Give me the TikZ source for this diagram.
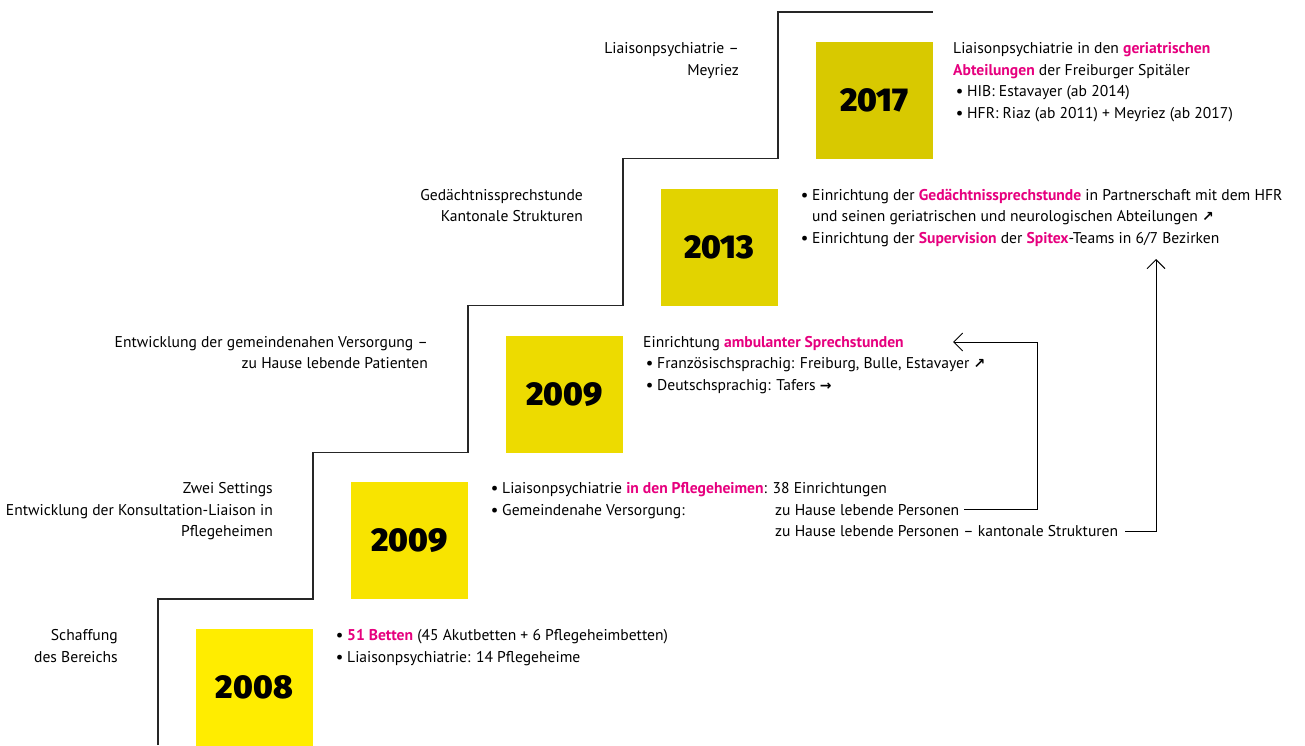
\documentclass[tikz,border=0pt]{standalone}
\usepackage{fontspec}
\setmainfont{PT Sans}
\newfontfamily\yearfont{Fira Sans Black}
\newfontfamily\arrowfont{DejaVu Sans}
\usetikzlibrary{arrows.meta}
\definecolor{hlpink}{HTML}{E6007E}
\definecolor{y08}{HTML}{FFED00}
\definecolor{y09a}{HTML}{F8E400}
\definecolor{y09b}{HTML}{EDDB00}
\definecolor{y13}{HTML}{E2D300}
\definecolor{y17}{HTML}{D8C900}
\newcommand{\hlt}[1]{\textcolor{hlpink}{\bfseries #1}}
\newcommand{\bul}{\makebox[14pt][l]{\hspace{3pt}\textbf{•}}}
\newcommand{\nea}{{\arrowfont\bfseries\fontsize{14}{14}\selectfont ↗}}
\newcommand{\eaa}{{\arrowfont\bfseries\fontsize{14}{14}\selectfont →}}
\begin{document}
\begin{tikzpicture}[x=1pt,y=1pt,
  yearbox/.style={minimum width=117pt, minimum height=117pt, inner sep=0pt, anchor=north east,
    font=\yearfont\fontsize{33}{33}\selectfont},
  txt/.style={inner sep=0pt, align=left, anchor=north west, font=\fontsize{15.6}{21.5}\selectfont},
  lbl/.style={inner sep=0pt, align=right, anchor=north east, font=\fontsize{15.6}{21.5}\selectfont},
  sidetxt/.style={inner sep=0pt, anchor=base west, font=\fontsize{15.6}{21.5}\selectfont},
  stair/.style={line width=1.2pt, black!85},
  conn/.style={line width=0.9pt, -{Straight Barb[length=9pt,width=18pt]}}]
\useasboundingbox (0,0) rectangle (1305,-745);

% year boxes, one per step
\foreach \k/\yr/\col/\nm in {0/2008/y08/b2008, 1/2009/y09a/b2009a, 2/2009/y09b/b2009b,
    3/2013/y13/b2013, 4/2017/y17/b2017}
  \node[yearbox, fill=\col] (\nm) at ({313+155*\k},{-629+146.75*\k}) {\yr};

% staircase
\draw[stair] (158,-745) \foreach \k in {0,...,4} {
  -- ({158+155*\k},{-599+146.75*\k}) -- ({313+155*\k},{-599+146.75*\k}) };

% labels left of the risers
\node[lbl] (l2008) at (118,-625.45) {\strut Schaffung\\des Bereichs};
\node[lbl] (l2009a) at (273,-478.7) {\strut Zwei Settings\\Entwicklung der Konsultation-Liaison in\\Pflegeheimen};
\node[lbl] (l2009b) at (428,-331.95) {\strut Entwicklung der gemeindenahen Versorgung --\\zu Hause lebende Patienten};
\node[lbl] (l2013) at (583,-185.2) {\strut Gedächtnissprechstunde\\Kantonale Strukturen};
\node[lbl] (l2017) at (739,-38.45) {\strut Liaisonpsychiatrie --\\Meyriez};

% texts right of the boxes
\node[txt] (t2008) at ([xshift=20pt,yshift=3.55pt]b2008.north east)
  {\strut\bul\hlt{51 Betten} (45 Akutbetten + 6 Pflegeheimbetten)\\
   \bul Liaisonpsychiatrie: 14 Pflegeheime};
\node[txt] (t2009a) at ([xshift=20pt,yshift=3.55pt]b2009a.north east)
  {\strut\bul Liaisonpsychiatrie \hlt{in den Pflegeheimen}: 38 Einrichtungen\\
   \bul Gemeindenahe Versorgung:};
\node[sidetxt] (pers) at (775,-515.25) {zu Hause lebende Personen};
\node[sidetxt] (perskant) at (775,-536.75) {zu Hause lebende Personen -- kantonale Strukturen};
\node[txt] (t2009b) at ([xshift=20pt,yshift=3.55pt]b2009b.north east)
  {\strut Einrichtung \hlt{ambulanter Sprechstunden}\\
   \bul Französischsprachig: Freiburg, Bulle, Estavayer \nea\\
   \bul Deutschsprachig: Tafers \eaa};
\node[txt] (t2013) at ([xshift=20pt,yshift=3.55pt]b2013.north east)
  {\strut\bul Einrichtung der \hlt{Gedächtnissprechstunde} in Partnerschaft mit dem HFR\\
   \hspace*{14pt}und seinen geriatrischen und neurologischen Abteilungen \nea\\
   \bul Einrichtung der \hlt{Supervision} der \hlt{Spitex}-Teams in 6/7 Bezirken};
\node[txt] (t2017) at ([xshift=20pt,yshift=3.55pt]b2017.north east)
  {\strut Liaisonpsychiatrie in den \hlt{geriatrischen}\\
   \hlt{Abteilungen} der Freiburger Spitäler\\
   \bul HIB: Estavayer (ab 2014)\\
   \bul HFR: Riaz (ab 2011) + Meyriez (ab 2017)};

% connectors
\coordinate (k1) at (1037,-342);
\coordinate (e2009) at (953,-342);
\coordinate (e2013) at (1156,-259);
\draw[conn] ([xshift=5pt]pers.east) -| (k1) -- (e2009);
\draw[conn] ([xshift=7pt]perskant.east) -| (e2013);
\end{tikzpicture}
\end{document}
